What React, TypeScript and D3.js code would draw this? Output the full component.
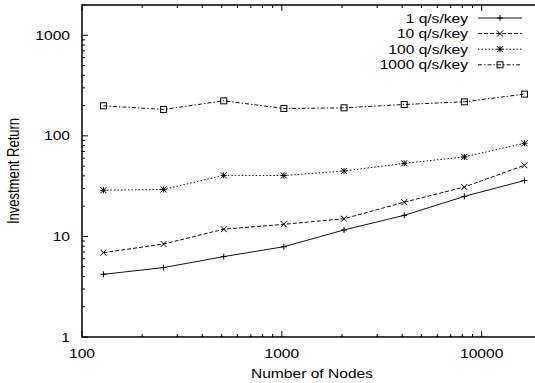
import React, { useEffect, useRef } from 'react';
import * as d3 from 'd3';

const nodes = [128, 256, 512, 1024, 2048, 4096, 8192, 16384];
const seriesNames = ['1 q/s/key', '10 q/s/key', '100 q/s/key', '1000 q/s/key'];
const rate1 = [4.2, 4.9, 6.3, 7.9, 11.6, 16.2, 25, 36];
const rate10 = [6.9, 8.4, 11.8, 13.2, 15, 21.9, 31, 51];
const rate100 = [28.8, 29.3, 40.5, 40.3, 44.7, 53.3, 61.7, 84.5];
const rate1000 = [199, 183, 223, 187, 190, 205, 218, 260];
const xTickLabels = [100, 1000, 10000];
const yTickLabels = [1, 10, 100, 1000];

const width = 535;
const height = 383;
const SX = 1.2; // source image is stretched horizontally

function App() {
  const svgRef = useRef<SVGSVGElement>(null);

  useEffect(() => {
    const svg = d3.select(svgRef.current);
    svg.selectAll('*').remove();

    const margin = { left: 82, top: 5, bottom: 46 };
    const x = d3.scaleLog().domain([100, 20000]).range([margin.left, 541.8]);
    const y = d3.scaleLog().domain([1, 2000]).range([height - margin.bottom, margin.top]);
    const x0 = margin.left, x1 = 541.8, y0 = height - margin.bottom, y1 = margin.top;

    const font = 'Liberation Sans, Arial, Helvetica, sans-serif';
    const addText = (tx: number, ty: number, str: string, anchor: string) =>
      svg.append('text')
        .attr('transform', `translate(${tx},${ty}) scale(${SX},1)`)
        .attr('text-anchor', anchor)
        .attr('font-family', font)
        .attr('font-size', 13)
        .attr('fill', '#000')
        .text(str);

    // ticks
    const g = svg.append('g').attr('stroke', '#000').attr('stroke-width', 1);
    const xTicks: number[] = [];
    for (let d = 100; d <= 10000; d *= 10) for (let k = 1; k <= 9; k++) if (d * k <= 20000) xTicks.push(d * k);
    xTicks.push(20000);
    xTicks.forEach(t => {
      const major = xTickLabels.includes(t);
      const len = major ? 6 : 3;
      const px = x(t);
      g.append('line').attr('x1', px).attr('x2', px).attr('y1', y0).attr('y2', y0 - len);
      g.append('line').attr('x1', px).attr('x2', px).attr('y1', y1).attr('y2', y1 + len);
    });
    const yTicks: number[] = [];
    for (let d = 1; d <= 1000; d *= 10) for (let k = 1; k <= 9; k++) if (d * k <= 2000) yTicks.push(d * k);
    yTicks.forEach(t => {
      const major = yTickLabels.includes(t);
      const len = major ? 6 : 3;
      const py = y(t);
      g.append('line').attr('x1', x0).attr('x2', x0 + len).attr('y1', py).attr('y2', py);
      g.append('line').attr('x1', x1).attr('x2', x1 - len).attr('y1', py).attr('y2', py);
    });

    // frame
    svg.append('rect')
      .attr('x', x0).attr('y', y1).attr('width', x1 - x0).attr('height', y0 - y1)
      .attr('fill', 'none').attr('stroke', '#000').attr('stroke-width', 1.5);

    xTickLabels.forEach(t => addText(x(t), 358, String(t), 'middle'));
    yTickLabels.forEach(t => addText(70, y(t) + 4.5, String(t), 'end'));

    addText(312, 378, 'Number of Nodes', 'middle');
    svg.append('text')
      .attr('transform', `translate(19,${(y0 + y1) / 2}) rotate(-90) scale(1,${SX})`)
      .attr('text-anchor', 'middle')
      .attr('font-family', font)
      .attr('font-size', 13)
      .text('Investment Return');

    const allSeries = [rate1, rate10, rate100, rate1000];
    const dashes = ['none', '4,2', '1.5,2', '4,2,1.5,2'];

    const drawMarker = (sel: any, i: number, cx: number, cy: number) => {
      const m = sel.append('g').attr('stroke', '#000').attr('stroke-width', 1).attr('fill', 'none');
      const r = 3;
      if (i === 0 || i === 2) {
        m.append('line').attr('x1', cx - r).attr('x2', cx + r).attr('y1', cy).attr('y2', cy);
        m.append('line').attr('x1', cx).attr('x2', cx).attr('y1', cy - r).attr('y2', cy + r);
      }
      if (i === 1 || i === 2) {
        m.append('line').attr('x1', cx - r).attr('x2', cx + r).attr('y1', cy - r).attr('y2', cy + r);
        m.append('line').attr('x1', cx - r).attr('x2', cx + r).attr('y1', cy + r).attr('y2', cy - r);
      }
      if (i === 3) {
        m.append('rect').attr('x', cx - r).attr('y', cy - r).attr('width', 2 * r).attr('height', 2 * r);
      }
    };

    const line = d3.line<number>()
      .x((d, j) => x(nodes[j]))
      .y(d => y(d));

    allSeries.forEach((vals, i) => {
      svg.append('path')
        .datum(vals)
        .attr('d', line)
        .attr('fill', 'none')
        .attr('stroke', '#111')
        .attr('stroke-width', 1)
        .attr('stroke-dasharray', dashes[i]);
      vals.forEach((v, j) => drawMarker(svg, i, x(nodes[j]), y(v)));
    });

    // legend
    seriesNames.forEach((name, i) => {
      const ly = 18 + i * 15.6;
      addText(468, ly + 4.5, name, 'end');
      svg.append('line')
        .attr('x1', 478).attr('x2', 522).attr('y1', ly).attr('y2', ly)
        .attr('stroke', '#111').attr('stroke-width', 1)
        .attr('stroke-dasharray', dashes[i]);
      drawMarker(svg, i, 500, ly);
    });
  }, []);

  return (
    <svg
      ref={svgRef}
      width={width}
      height={height}
      style={{ position: 'absolute', left: 0, top: 0, background: '#fff' }}
    />
  );
}

export default App;
